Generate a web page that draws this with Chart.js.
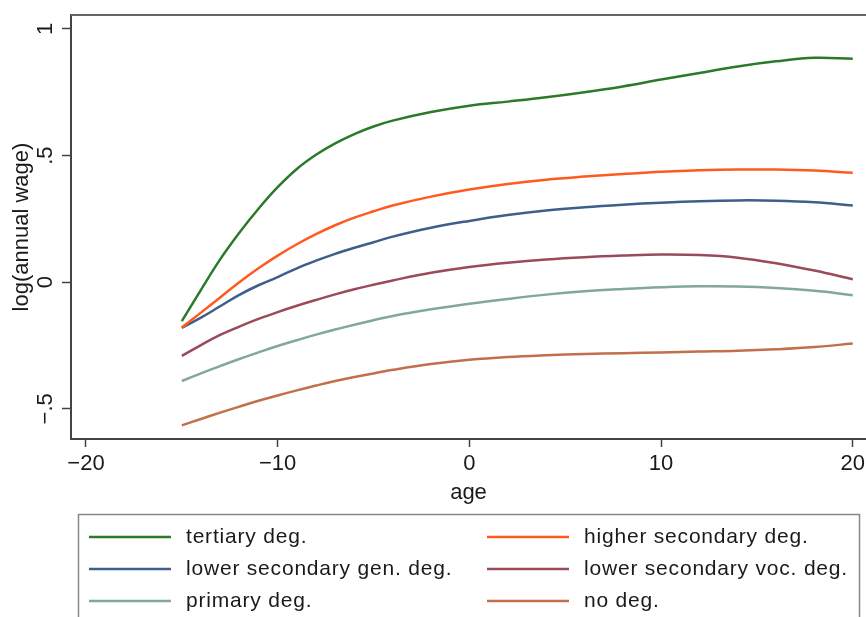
<!DOCTYPE html>
<html>
<head>
<meta charset="utf-8">
<script src="https://cdn.jsdelivr.net/npm/chart.js@4.4.1/dist/chart.umd.min.js"></script>
<style>
  html, body { margin: 0; padding: 0; background: #fff; }
</style>
</head>
<body>
<canvas id="wageChart" width="866" height="617"></canvas>
<script>
// age grid shared by all curves
const ages = [-15, -14, -13, -12, -11, -10, -9, -8, -7, -6, -5, -4, -2, 0, 2, 4, 6, 8, 10, 12, 14, 16, 18, 20];

const tertiary = [-0.154, -0.03, 0.09, 0.195, 0.29, 0.375, 0.447, 0.503, 0.548, 0.585, 0.615, 0.638, 0.672, 0.697, 0.713, 0.73, 0.75, 0.773, 0.80, 0.826, 0.852, 0.872, 0.886, 0.882];
const higherSec = [-0.179, -0.12, -0.06, 0.0, 0.055, 0.105, 0.15, 0.19, 0.225, 0.255, 0.28, 0.303, 0.338, 0.366, 0.388, 0.405, 0.417, 0.427, 0.436, 0.442, 0.445, 0.445, 0.441, 0.432];
const lowerGen = [-0.18, -0.14, -0.095, -0.05, -0.012, 0.02, 0.055, 0.085, 0.112, 0.136, 0.158, 0.18, 0.215, 0.242, 0.265, 0.283, 0.296, 0.306, 0.314, 0.32, 0.323, 0.322, 0.316, 0.303];
const lowerVoc = [-0.291, -0.248, -0.208, -0.175, -0.145, -0.118, -0.093, -0.07, -0.048, -0.028, -0.01, 0.007, 0.037, 0.06, 0.077, 0.09, 0.099, 0.105, 0.109, 0.107, 0.097, 0.075, 0.046, 0.012];
const primary = [-0.39, -0.36, -0.331, -0.303, -0.277, -0.252, -0.229, -0.207, -0.187, -0.168, -0.15, -0.133, -0.107, -0.085, -0.066, -0.049, -0.036, -0.027, -0.02, -0.016, -0.017, -0.023, -0.034, -0.051];
const noDeg = [-0.565, -0.54, -0.515, -0.491, -0.468, -0.447, -0.427, -0.408, -0.39, -0.374, -0.36, -0.346, -0.323, -0.306, -0.295, -0.288, -0.283, -0.28, -0.277, -0.274, -0.271, -0.265, -0.256, -0.242];

const seriesNames = ['tertiary deg.', 'higher secondary deg.', 'lower secondary gen. deg.', 'lower secondary voc. deg.', 'primary deg.', 'no deg.'];
const seriesValues = [tertiary, higherSec, lowerGen, lowerVoc, primary, noDeg];
const seriesColors = ['#2a7a2a', '#ff5a1f', '#3d5f8a', '#9a4a5a', '#82a89a', '#c0704a'];

const xTicks = [-20, -10, 0, 10, 20];
const yTicks = [-0.5, 0, 0.5, 1];

const FONT = '"Liberation Sans", Arial, sans-serif';
const AXIS = '#444';

function stataNum(v) {
  if (v === 0) return '0';
  const s = String(Math.abs(v)).replace(/^0\./, '.');
  return (v < 0 ? '\u2212' : '') + s;
}

const datasets = seriesValues.map((vals, i) => ({
  label: seriesNames[i],
  data: vals.map((v, j) => ({ x: ages[j], y: v })),
  borderColor: seriesColors[i],
  backgroundColor: seriesColors[i],
  borderWidth: 2.5,
  pointRadius: 0,
  fill: false,
  tension: 0.4,
}));

// top edge of the plot box
const plotBox = {
  id: 'plotBox',
  afterDraw(chart) {
    const { ctx, chartArea } = chart;
    ctx.save();
    ctx.strokeStyle = '#666';
    ctx.lineWidth = 2;
    ctx.beginPath();
    ctx.moveTo(chartArea.left, chartArea.top);
    ctx.lineTo(chartArea.right, chartArea.top);
    ctx.stroke();
    ctx.restore();
  },
};

// two-column legend in a box below the plot
const boxLegend = {
  id: 'boxLegend',
  afterDraw(chart) {
    const c = chart.ctx;
    c.save();
    c.strokeStyle = '#888';
    c.lineWidth = 1.5;
    c.strokeRect(78.5, 514.5, 781, 130);
    c.font = '21px ' + FONT;
    c.textBaseline = 'middle';
    c.fillStyle = '#1a1a1a';
    if ('letterSpacing' in c) c.letterSpacing = '0.8px';
    chart.data.datasets.forEach((ds, i) => {
      const col = i % 2;
      const row = Math.floor(i / 2);
      const x0 = col ? 487 : 89;
      const y = 537 + row * 32;
      c.strokeStyle = ds.borderColor;
      c.lineWidth = 2.5;
      c.beginPath();
      c.moveTo(x0, y);
      c.lineTo(x0 + 82, y);
      c.stroke();
      c.fillText(ds.label, x0 + 97, y);
    });
    c.restore();
  },
};

const noPad = (axis) => { axis.paddingLeft = 0; axis.paddingRight = 0; axis.paddingTop = 0; axis.paddingBottom = 0; };

const config = {
  type: 'line',
  data: { datasets: datasets },
  options: {
    responsive: false,
    animation: false,
    layout: { padding: { left: 0, top: 15, right: 0, bottom: 108 } },
    plugins: {
      legend: { display: false },
      tooltip: { enabled: false },
    },
    scales: {
      x: {
        type: 'linear',
        min: -20.78,
        max: 20.69,
        afterBuildTicks: (axis) => { axis.ticks = xTicks.map((v) => ({ value: v })); },
        afterFit: (axis) => { axis.height = 70; noPad(axis); },
        grid: { display: true, drawOnChartArea: false, drawTicks: true, tickLength: 8, tickColor: AXIS, tickWidth: 1.5 },
        border: { display: true, color: AXIS, width: 2 },
        ticks: {
          color: '#1a1a1a',
          font: { family: FONT, size: 22 },
          padding: 4,
          maxRotation: 0,
          autoSkip: false,
          callback: (v) => stataNum(v),
        },
        title: {
          display: true,
          text: 'age',
          color: '#1a1a1a',
          font: { family: FONT, size: 22 },
          padding: { top: 0, bottom: 3 },
        },
      },
      y: {
        type: 'linear',
        min: -0.619,
        max: 1.055,
        afterBuildTicks: (axis) => { axis.ticks = yTicks.map((v) => ({ value: v })); },
        afterFit: (axis) => { axis.width = 71; noPad(axis); },
        grid: { display: true, drawOnChartArea: false, drawTicks: true, tickLength: 9, tickColor: AXIS, tickWidth: 1.5 },
        border: { display: true, color: AXIS, width: 2 },
        ticks: {
          color: '#1a1a1a',
          font: { family: FONT, size: 22 },
          padding: 0,
          minRotation: 90,
          maxRotation: 90,
          crossAlign: 'center',
          autoSkip: false,
          callback: (v) => stataNum(v),
        },
        title: {
          display: true,
          text: 'log(annual wage)',
          color: '#1a1a1a',
          font: { family: FONT, size: 22 },
          padding: { top: 9, bottom: 0 },
        },
      },
    },
  },
  plugins: [plotBox, boxLegend],
};

const wageChart = new Chart(document.getElementById('wageChart'), config);
</script>
</body>
</html>
